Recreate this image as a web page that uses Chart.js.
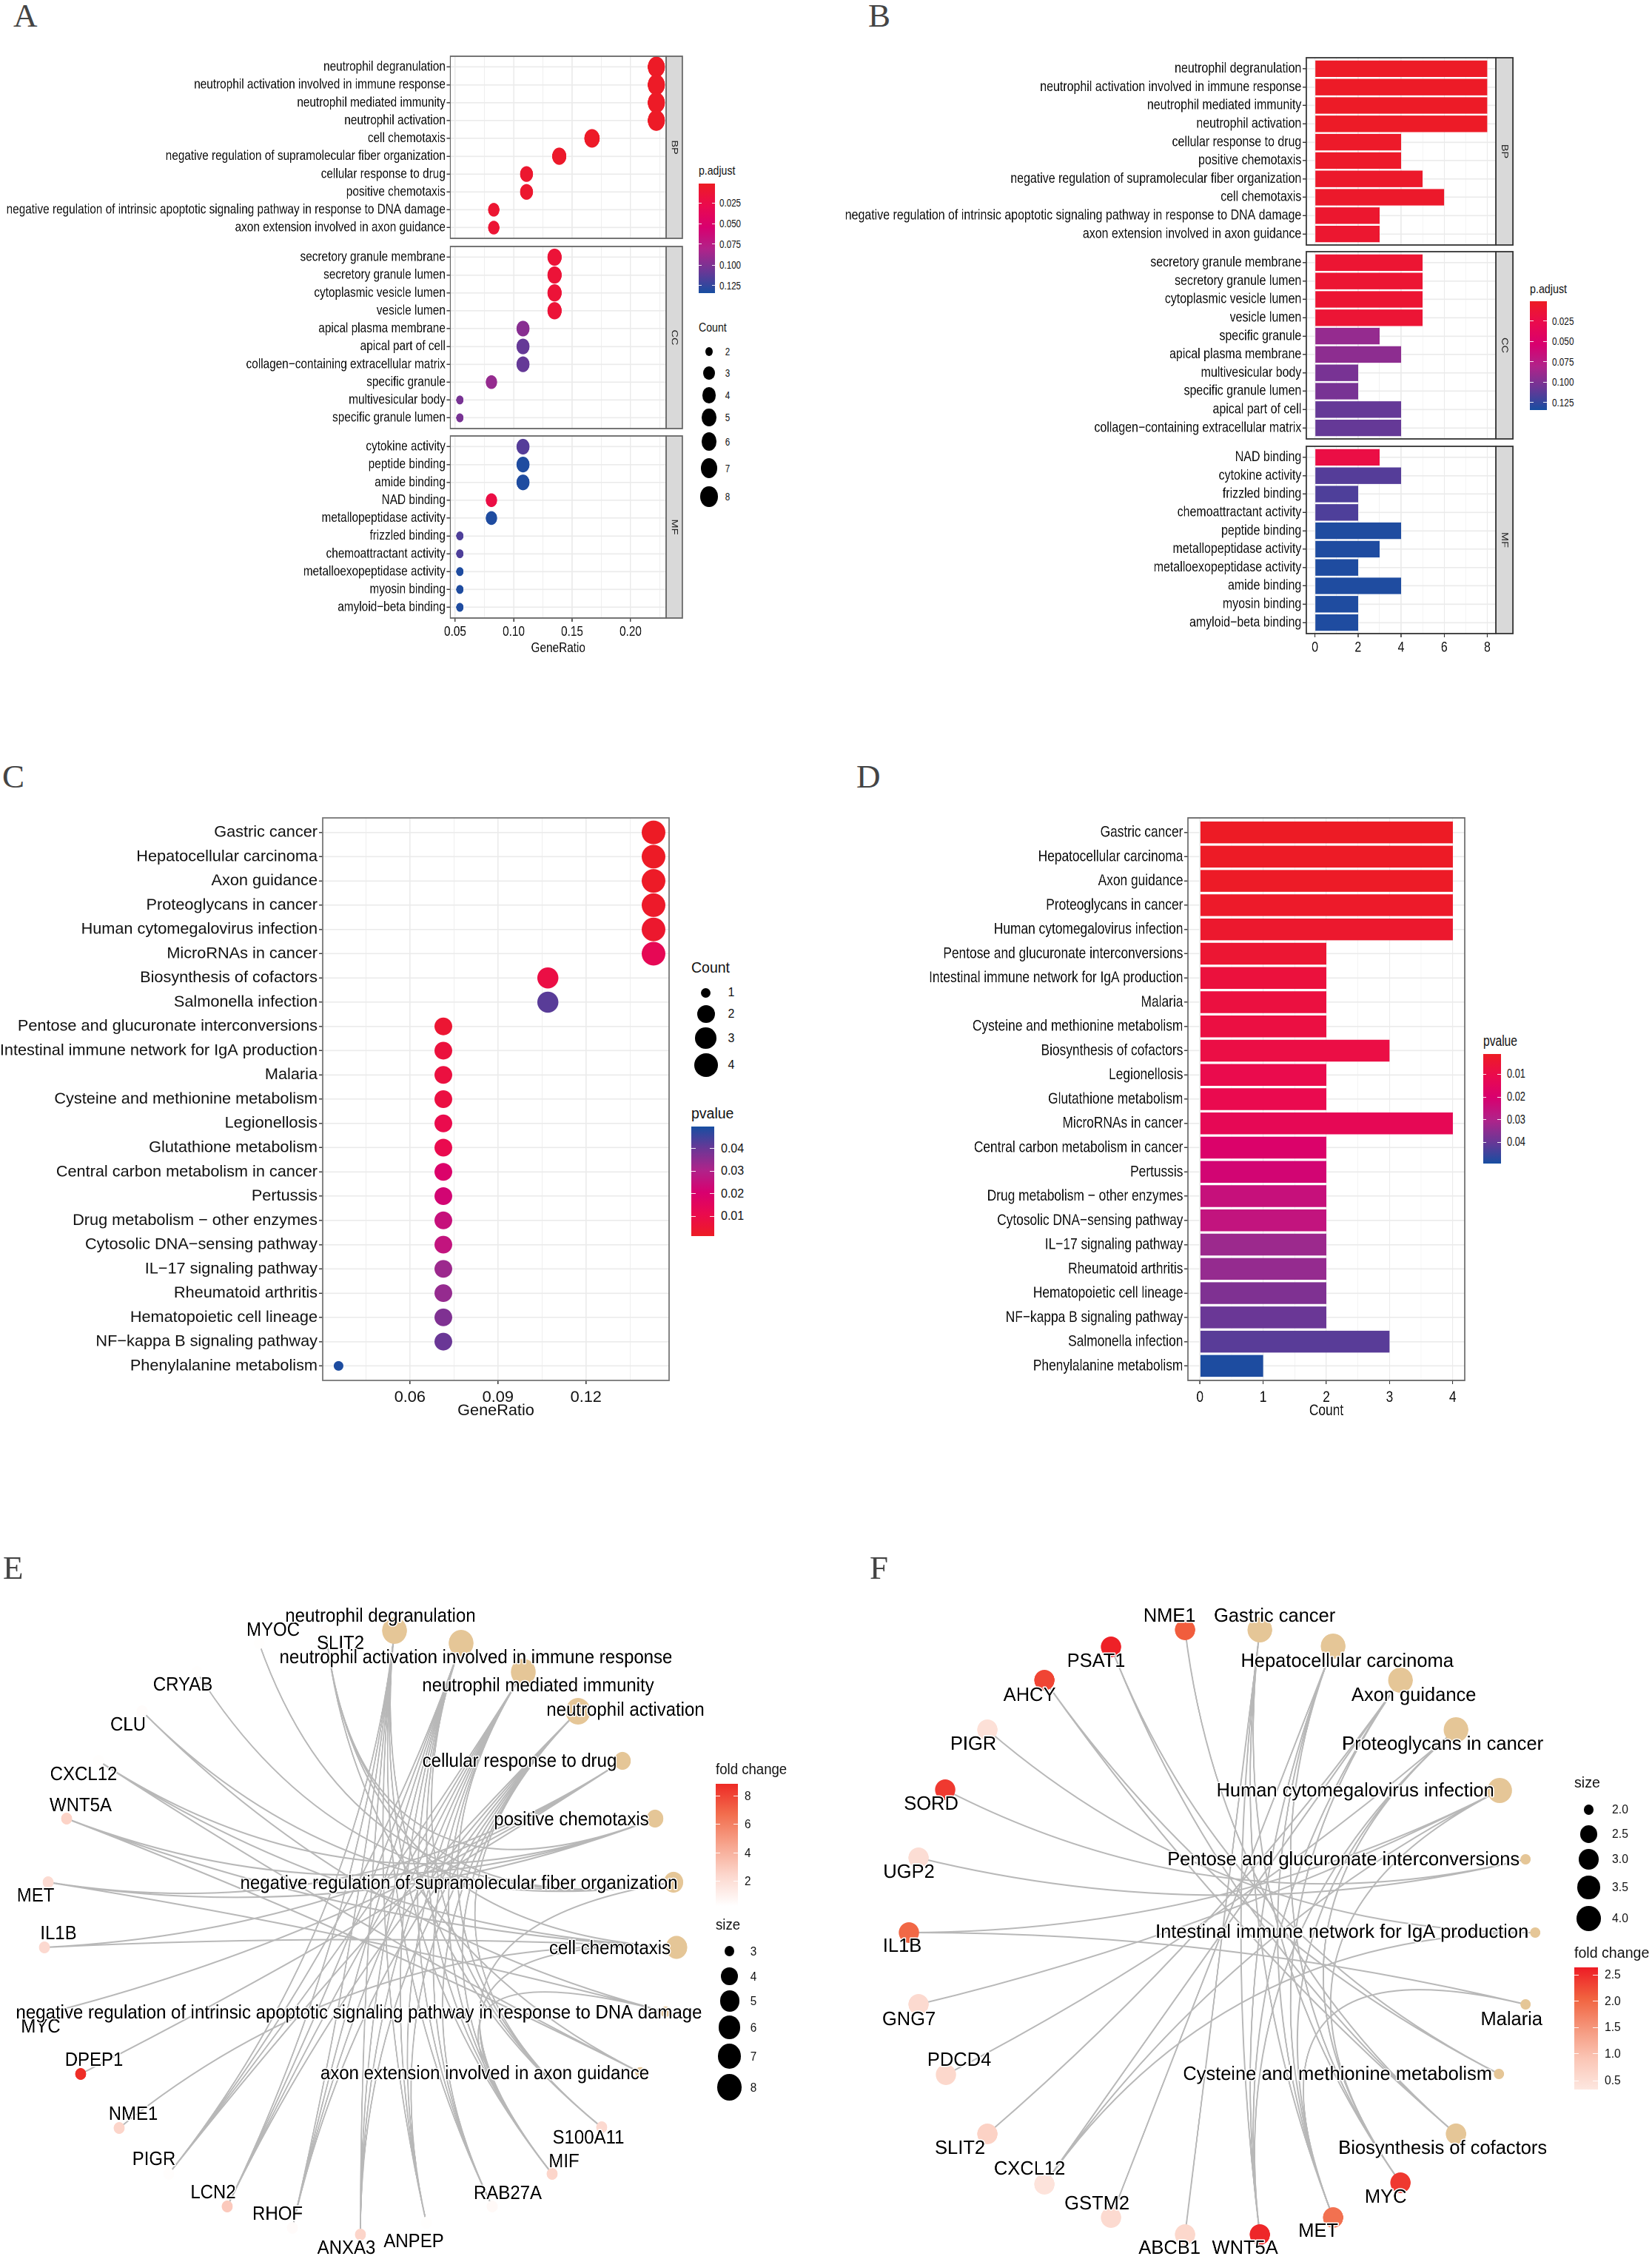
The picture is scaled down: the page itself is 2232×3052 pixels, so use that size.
<!DOCTYPE html>
<html>
<head>
<meta charset="utf-8">
<title>Enrichment panels</title>
<script src="https://cdn.jsdelivr.net/npm/chart.js@4/dist/chart.umd.min.js"></script>
<style>
html, body { margin: 0; padding: 0; background: #fff; }
#page { position: relative; width: 2232px; height: 3052px; overflow: hidden; background: #fff; font-family: 'Liberation Sans', Arial, sans-serif; color: #111; }
#page canvas { position: absolute; transform-origin: 0 0; }
.txt { position: absolute; white-space: nowrap; transform-origin: 0 50%; line-height: 1; }
.letter { position: absolute; font-family: 'Liberation Serif', serif; font-size: 45px; line-height: 1; color: #444; transform-origin: 0 50%; }
.box { position: absolute; }
</style>
</head>
<body>
<div id="page"></div>
<script>
// Panel A - GO dot plot
const bpTermsA = ['neutrophil degranulation', 'neutrophil activation involved in immune response', 'neutrophil mediated immunity', 'neutrophil activation', 'cell chemotaxis', 'negative regulation of supramolecular fiber organization', 'cellular response to drug', 'positive chemotaxis', 'negative regulation of intrinsic apoptotic signaling pathway in response to DNA damage', 'axon extension involved in axon guidance'];
const bpRatioA = [0.222, 0.222, 0.222, 0.222, 0.167, 0.139, 0.111, 0.111, 0.083, 0.083];
const bpCountA = [8, 8, 8, 8, 6, 5, 4, 4, 3, 3];
const bpPadjA = [0.003, 0.003, 0.003, 0.003, 0.004, 0.006, 0.008, 0.008, 0.01, 0.012];
const ccTermsA = ['secretory granule membrane', 'secretory granule lumen', 'cytoplasmic vesicle lumen', 'vesicle lumen', 'apical plasma membrane', 'apical part of cell', 'collagen\u2212containing extracellular matrix', 'specific granule', 'multivesicular body', 'specific granule lumen'];
const ccRatioA = [0.135, 0.135, 0.135, 0.135, 0.108, 0.108, 0.108, 0.081, 0.054, 0.054];
const ccCountA = [5, 5, 5, 5, 4, 4, 4, 3, 2, 2];
const ccPadjA = [0.014, 0.014, 0.014, 0.014, 0.095, 0.108, 0.108, 0.09, 0.101, 0.101];
const mfTermsA = ['cytokine activity', 'peptide binding', 'amide binding', 'NAD binding', 'metallopeptidase activity', 'frizzled binding', 'chemoattractant activity', 'metalloexopeptidase activity', 'myosin binding', 'amyloid\u2212beta binding'];
const mfRatioA = [0.108, 0.108, 0.108, 0.081, 0.081, 0.054, 0.054, 0.054, 0.054, 0.054];
const mfCountA = [4, 4, 4, 3, 3, 2, 2, 2, 2, 2];
const mfPadjA = [0.113, 0.13, 0.13, 0.022, 0.13, 0.115, 0.115, 0.13, 0.13, 0.13];
const ratioTicksA = [0.05, 0.075, 0.10, 0.125, 0.15, 0.175, 0.20, 0.225];
const ratioMajorA = [0.05, 0.10, 0.15, 0.20];

// Panel B - GO bar plot
const bpTermsB = ['neutrophil degranulation', 'neutrophil activation involved in immune response', 'neutrophil mediated immunity', 'neutrophil activation', 'cellular response to drug', 'positive chemotaxis', 'negative regulation of supramolecular fiber organization', 'cell chemotaxis', 'negative regulation of intrinsic apoptotic signaling pathway in response to DNA damage', 'axon extension involved in axon guidance'];
const bpCountB = [8, 8, 8, 8, 4, 4, 5, 6, 3, 3];
const bpPadjB = [0.003, 0.003, 0.003, 0.003, 0.005, 0.005, 0.006, 0.006, 0.008, 0.009];
const ccTermsB = ['secretory granule membrane', 'secretory granule lumen', 'cytoplasmic vesicle lumen', 'vesicle lumen', 'specific granule', 'apical plasma membrane', 'multivesicular body', 'specific granule lumen', 'apical part of cell', 'collagen\u2212containing extracellular matrix'];
const ccCountB = [5, 5, 5, 5, 3, 4, 2, 2, 4, 4];
const ccPadjB = [0.011, 0.011, 0.011, 0.012, 0.09, 0.093, 0.101, 0.101, 0.108, 0.108];
const mfTermsB = ['NAD binding', 'cytokine activity', 'frizzled binding', 'chemoattractant activity', 'peptide binding', 'metallopeptidase activity', 'metalloexopeptidase activity', 'amide binding', 'myosin binding', 'amyloid\u2212beta binding'];
const mfCountB = [3, 4, 2, 2, 4, 3, 2, 4, 2, 2];
const mfPadjB = [0.022, 0.113, 0.115, 0.115, 0.13, 0.13, 0.13, 0.13, 0.13, 0.13];
const countTicksB = [0, 1, 2, 3, 4, 5, 6, 7, 8];
const countMajorB = [0, 2, 4, 6, 8];

// Panel C - KEGG dot plot
const keggTermsC = ['Gastric cancer', 'Hepatocellular carcinoma', 'Axon guidance', 'Proteoglycans in cancer', 'Human cytomegalovirus infection', 'MicroRNAs in cancer', 'Biosynthesis of cofactors', 'Salmonella infection', 'Pentose and glucuronate interconversions', 'Intestinal immune network for IgA production', 'Malaria', 'Cysteine and methionine metabolism', 'Legionellosis', 'Glutathione metabolism', 'Central carbon metabolism in cancer', 'Pertussis', 'Drug metabolism \u2212 other enzymes', 'Cytosolic DNA\u2212sensing pathway', 'IL\u221217 signaling pathway', 'Rheumatoid arthritis', 'Hematopoietic cell lineage', 'NF\u2212kappa B signaling pathway', 'Phenylalanine metabolism'];
const keggRatioC = [0.143, 0.143, 0.143, 0.143, 0.143, 0.143, 0.107, 0.107, 0.0714, 0.0714, 0.0714, 0.0714, 0.0714, 0.0714, 0.0714, 0.0714, 0.0714, 0.0714, 0.0714, 0.0714, 0.0714, 0.0714, 0.0357];
const keggCountC = [4, 4, 4, 4, 4, 4, 3, 3, 2, 2, 2, 2, 2, 2, 2, 2, 2, 2, 2, 2, 2, 2, 1];
const keggPvalC = [0.0014, 0.0016, 0.0018, 0.0024, 0.0034, 0.013, 0.0088, 0.042, 0.0045, 0.007, 0.0075, 0.008, 0.0105, 0.011, 0.019, 0.022, 0.025, 0.026, 0.033, 0.034, 0.037, 0.04, 0.049];
const ratioTicksC = [0.045, 0.06, 0.075, 0.09, 0.105, 0.12, 0.135];
const ratioMajorC = [0.06, 0.09, 0.12];

// Panel D - KEGG bar plot
const keggTermsD = ['Gastric cancer', 'Hepatocellular carcinoma', 'Axon guidance', 'Proteoglycans in cancer', 'Human cytomegalovirus infection', 'Pentose and glucuronate interconversions', 'Intestinal immune network for IgA production', 'Malaria', 'Cysteine and methionine metabolism', 'Biosynthesis of cofactors', 'Legionellosis', 'Glutathione metabolism', 'MicroRNAs in cancer', 'Central carbon metabolism in cancer', 'Pertussis', 'Drug metabolism \u2212 other enzymes', 'Cytosolic DNA\u2212sensing pathway', 'IL\u221217 signaling pathway', 'Rheumatoid arthritis', 'Hematopoietic cell lineage', 'NF\u2212kappa B signaling pathway', 'Salmonella infection', 'Phenylalanine metabolism'];
const keggCountD = [4, 4, 4, 4, 4, 2, 2, 2, 2, 3, 2, 2, 4, 2, 2, 2, 2, 2, 2, 2, 2, 3, 1];
const keggPvalD = [0.0014, 0.0016, 0.0018, 0.0024, 0.0034, 0.0045, 0.007, 0.0075, 0.008, 0.0088, 0.0105, 0.011, 0.013, 0.019, 0.022, 0.025, 0.026, 0.033, 0.034, 0.037, 0.04, 0.042, 0.049];
const countTicksD = [0, 0.5, 1, 1.5, 2, 2.5, 3, 3.5, 4];
const countMajorD = [0, 1, 2, 3, 4];

// Panel E - GO network, node places
const termsE = ['neutrophil degranulation', 'neutrophil activation involved in immune response', 'neutrophil mediated immunity', 'neutrophil activation', 'cellular response to drug', 'positive chemotaxis', 'negative regulation of supramolecular fiber organization', 'cell chemotaxis', 'negative regulation of intrinsic apoptotic signaling pathway in response to DNA damage', 'axon extension involved in axon guidance'];
const termXE = [533, 623, 707, 781, 841, 885, 910, 914, 899, 865];
const termYE = [113, 130, 169, 222, 289, 367, 453, 541, 628, 710];
const termSizeE = [8, 8, 8, 8, 4, 4, 5, 6, 3, 3];
const termLabelXE = [514, 643, 727, 845, 702, 772, 620, 824, 485, 655];
const termLabelYE = [94, 150, 188, 221, 290, 369, 455, 543, 630, 712];
const genesE = ['S100A11', 'MIF', 'RAB27A', 'ANPEP', 'ANXA3', 'RHOF', 'LCN2', 'PIGR', 'NME1', 'DPEP1', 'MYC', 'IL1B', 'MET', 'WNT5A', 'CXCL12', 'CLU', 'CRYAB', 'MYOC', 'SLIT2'];
const geneXE = [813, 746, 665, 576, 487, 395, 307, 228, 161, 109, 75, 60, 65, 90, 133, 192, 266, 350, 440];
const geneYE = [784, 847, 891, 913, 929, 920, 891, 847, 785, 712, 627, 541, 453, 367, 289, 222, 169, 130, 113];
const geneFoldE = [2.3, 2.5, 0.6, 0.35, 2.5, 0.5, 3.0, 0.4, 2.5, 8.7, 0.35, 2.3, 2.2, 2.6, 0.35, 0.45, 0.35, 0.35, 0.5];
const geneLabelXE = [795, 762, 686, 559, 468, 375, 288, 208, 180, 127, 55, 79, 48, 109, 113, 173, 247, 369, 460];
const geneLabelYE = [799, 831, 874, 939, 948, 902, 873, 828, 767, 694, 649, 523, 472, 350, 308, 241, 187, 113, 131];
const neutrophilGenesE = ['S100A11', 'MIF', 'RAB27A', 'ANPEP', 'ANXA3', 'RHOF', 'LCN2', 'PIGR'];
const termLinksE = [
    neutrophilGenesE, neutrophilGenesE, neutrophilGenesE, neutrophilGenesE,
    ['MYC', 'MET', 'IL1B', 'DPEP1'],
    ['WNT5A', 'CXCL12', 'MET', 'SLIT2'],
    ['SLIT2', 'MYOC', 'CRYAB', 'CLU', 'MIF'],
    ['SLIT2', 'WNT5A', 'CXCL12', 'IL1B', 'MIF', 'NME1'],
    ['CLU', 'MIF', 'MET'],
    ['SLIT2', 'WNT5A', 'CXCL12']
];

// Panel F - KEGG network
const termsF = ['Gastric cancer', 'Hepatocellular carcinoma', 'Axon guidance', 'Proteoglycans in cancer', 'Human cytomegalovirus infection', 'Pentose and glucuronate interconversions', 'Intestinal immune network for IgA production', 'Malaria', 'Cysteine and methionine metabolism', 'Biosynthesis of cofactors'];
const termXF = [586, 685, 776, 851, 910, 945, 958, 945, 909, 851];
const termYF = [112, 134, 180, 247, 329, 422, 521, 618, 712, 793];
const termSizeF = [4, 4, 4, 4, 4, 2, 2, 2, 2, 3];
const termLabelXF = [606, 704, 794, 833, 715, 699, 697, 926, 691, 833];
const termLabelYF = [94, 155, 201, 267, 330, 423, 521, 639, 713, 813];
const genesF = ['MYC', 'MET', 'WNT5A', 'ABCB1', 'GSTM2', 'CXCL12', 'SLIT2', 'PDCD4', 'GNG7', 'IL1B', 'UGP2', 'SORD', 'PIGR', 'AHCY', 'PSAT1', 'NME1'];
const geneXF = [776, 685, 586, 485, 385, 295, 218, 162, 125, 112, 125, 161, 218, 295, 385, 485];
const geneYF = [859, 906, 929, 929, 906, 861, 793, 713, 618, 521, 420, 328, 247, 180, 135, 112];
const geneFoldF = [2.4, 1.9, 2.55, 0.6, 0.55, 0.4, 0.7, 0.6, 0.55, 2.0, 0.5, 2.4, 0.45, 2.3, 2.6, 2.1];
const geneLabelXF = [756, 665, 566, 464, 366, 275, 181, 180, 112, 103, 112, 142, 199, 275, 365, 464];
const geneLabelYF = [879, 925, 948, 948, 888, 841, 813, 694, 639, 540, 440, 348, 267, 201, 155, 94];
const termLinksF = [
    ['MYC', 'MET', 'WNT5A', 'ABCB1'],
    ['MYC', 'MET', 'WNT5A', 'GSTM2'],
    ['MET', 'WNT5A', 'CXCL12', 'SLIT2'],
    ['MYC', 'MET', 'WNT5A', 'PDCD4'],
    ['GNG7', 'CXCL12', 'MYC', 'IL1B'],
    ['UGP2', 'SORD'],
    ['PIGR', 'CXCL12'],
    ['IL1B', 'MET'],
    ['AHCY', 'PSAT1'],
    ['NME1', 'AHCY', 'PSAT1']
];

// Legend values
const padjTicks = [0.025, 0.05, 0.075, 0.1, 0.125];
const pvalTicks = [0.01, 0.02, 0.03, 0.04];
const countLegendA = [2, 3, 4, 5, 6, 7, 8];
const countLegendC = [1, 2, 3, 4];
const sizeLegendE = [3, 4, 5, 6, 7, 8];
const sizeLegendF = [2.0, 2.5, 3.0, 3.5, 4.0];
const foldTicksE = [2, 4, 6, 8];
const foldTicksF = [0.5, 1.0, 1.5, 2.0, 2.5];

// Colours
const pColours = ['#ED1C24', '#EA0A4E', '#D8006F', '#B0238A', '#6A3796', '#174EA1'];
const foldColoursE = ['#FFFFFF', '#FCD7CD', '#F7A58E', '#F26E4E', '#EE2A25'];
const foldColoursF = ['#FDE7E0', '#FBC6B6', '#F5977C', '#F1623F', '#EE1C25'];
const termColour = '#E5C697';
const edgeColour = '#B8B8B8';

const page = document.getElementById('page');
const FONT = "'Liberation Sans', Arial, sans-serif";
Chart.defaults.font.family = FONT;
Chart.defaults.color = '#111';
Chart.defaults.animation = false;

function hexToRgb(h) {
    return [parseInt(h.slice(1, 3), 16), parseInt(h.slice(3, 5), 16), parseInt(h.slice(5, 7), 16)];
}

function colourAt(t, stops) {
    t = Math.min(1, Math.max(0, t));
    const pos = t * (stops.length - 1);
    const i = Math.min(stops.length - 2, Math.floor(pos));
    const a = hexToRgb(stops[i]), b = hexToRgb(stops[i + 1]);
    const f = pos - i;
    return `rgb(${a.map((v, k) => Math.round(v + (b[k] - v) * f)).join(',')})`;
}

function scaleColour(values, lo, hi, stops) {
    return values.map(v => colourAt((v - lo) / (hi - lo), stops));
}

// ggplot style area scale for the dots
function radiusFor(v, lo, hi, rLo, rHi) {
    return rLo + (rHi - rLo) * Math.sqrt((v - lo) / (hi - lo));
}

function addText(text, x, y, size, sx, centre) {
    const el = document.createElement('div');
    el.className = 'txt';
    el.textContent = text;
    el.style.left = x + 'px';
    el.style.top = (y - size / 2) + 'px';
    el.style.fontSize = size + 'px';
    el.style.transform = `scaleX(${sx})`;
    if (centre) {
        el.style.transformOrigin = '50% 50%';
        el.style.width = '80px';
        el.style.marginLeft = '-40px';
        el.style.textAlign = 'center';
    }
    page.appendChild(el);
}

function addLetter(text, x, y) {
    const el = document.createElement('div');
    el.className = 'letter';
    el.textContent = text;
    el.style.left = x + 'px';
    el.style.top = (y - 22) + 'px';
    page.appendChild(el);
}

function addDot(x, y, r, sx) {
    const el = document.createElement('div');
    el.className = 'box';
    el.style.cssText = `left:${x - r * sx}px;top:${y - r}px;width:${2 * r * sx}px;height:${2 * r}px;background:#000;border-radius:50%;`;
    page.appendChild(el);
}

// Colour bar: colours run top to bottom, white tick pairs at each label
function addColourBar(x0, x1, y0, y1, colours, tickYs, labels, labelX, size, sx) {
    const el = document.createElement('div');
    el.className = 'box';
    el.style.cssText = `left:${x0}px;top:${y0}px;width:${x1 - x0}px;height:${y1 - y0}px;background:linear-gradient(to bottom,${colours.join(',')});`;
    page.appendChild(el);
    const w = (x1 - x0) / 5;
    tickYs.forEach((y, i) => {
        [x0, x1 - w].forEach(x => {
            const t = document.createElement('div');
            t.className = 'box';
            t.style.cssText = `left:${x}px;top:${y - 0.5}px;width:${w}px;height:1px;background:rgba(255,255,255,0.9);`;
            page.appendChild(t);
        });
        addText(labels[i], labelX, y, size, sx);
    });
}

// Panel frame and the grey facet strip on the right
function framePlugin(strip, stripW, colour) {
    return {
        id: 'panelFrame',
        afterDraw(chart) {
            const a = chart.chartArea, ctx = chart.ctx;
            ctx.save();
            ctx.strokeStyle = colour;
            ctx.lineWidth = 1.8;
            if (strip) {
                ctx.fillStyle = '#D9D9D9';
                ctx.fillRect(a.right, a.top, stripW, a.bottom - a.top);
                ctx.strokeRect(a.right, a.top, stripW, a.bottom - a.top);
                ctx.save();
                ctx.translate(a.right + stripW / 2, (a.top + a.bottom) / 2);
                ctx.rotate(Math.PI / 2);
                ctx.fillStyle = '#222';
                ctx.font = `14.5px ${FONT}`;
                ctx.textAlign = 'center';
                ctx.textBaseline = 'middle';
                ctx.fillText(strip, 0, 0);
                ctx.restore();
            }
            ctx.strokeRect(a.left, a.top, a.right - a.left, a.bottom - a.top);
            ctx.restore();
        }
    };
}

// One facet: f gives figure pixels for its box, sx the horizontal squeeze of the panel
function facet(f) {
    const n = f.terms.length;
    const stripW = f.strip ? (f.stripRight - f.right) / f.sx : 0;
    const pad = 2;
    const axisH = f.axisH || pad;
    const areaRight = (f.right - f.canvasLeft) / f.sx;
    const canvas = document.createElement('canvas');
    canvas.width = Math.ceil(areaRight + stripW + 4);
    canvas.height = Math.ceil(f.bottom - f.top + pad + axisH);
    canvas.style.left = f.canvasLeft + 'px';
    canvas.style.top = (f.top - pad) + 'px';
    canvas.style.transform = `scaleX(${f.sx})`;
    page.appendChild(canvas);

    const points = f.values.map((v, i) => ({ x: v, y: i }));
    const dataset = f.kind === 'bar'
        ? { data: points, backgroundColor: f.colours, borderWidth: 0, barPercentage: 1, categoryPercentage: 0.9 }
        : { data: points, pointBackgroundColor: f.colours, pointBorderWidth: 0, pointRadius: f.radii, showLine: false };

    new Chart(canvas, {
        type: f.kind === 'bar' ? 'bar' : 'scatter',
        data: { datasets: [dataset] },
        plugins: [framePlugin(f.strip, stripW, f.frame)],
        options: {
            responsive: false,
            devicePixelRatio: 2,
            animation: false,
            indexAxis: f.kind === 'bar' ? 'y' : 'x',
            layout: { autoPadding: false, padding: { top: pad, right: canvas.width - areaRight, bottom: 0, left: 0 } },
            plugins: { legend: { display: false }, tooltip: { enabled: false } },
            scales: {
                x: {
                    type: 'linear',
                    offset: false,
                    min: f.xMin,
                    max: f.xMax,
                    afterBuildTicks(s) { s.ticks = f.xTicks.map(v => ({ value: v })); },
                    afterFit(s) { s.height = axisH; s.paddingLeft = 0; s.paddingRight = 0; },
                    border: { display: false },
                    grid: {
                        offset: false,
                        color: '#EBEBEB',
                        lineWidth: c => (f.xMajor.includes(c.tick.value) ? 1.6 : 0.8),
                        drawTicks: !!f.showAxis,
                        tickLength: 5,
                        tickColor: c => (f.xMajor.includes(c.tick.value) ? '#333' : 'rgba(0,0,0,0)'),
                        tickWidth: 1.5
                    },
                    ticks: {
                        display: !!f.showAxis,
                        autoSkip: false,
                        maxRotation: 0,
                        padding: f.tickPad,
                        color: '#111',
                        font: { size: f.fontSize },
                        callback: v => (f.xMajor.includes(v) ? f.xFormat(v) : '')
                    },
                    title: {
                        display: !!f.xTitle,
                        text: f.xTitle || '',
                        color: '#111',
                        font: { size: f.fontSize },
                        padding: 0
                    }
                },
                y: {
                    type: 'linear',
                    offset: false,
                    reverse: true,
                    min: -0.6,
                    max: n - 0.4,
                    afterBuildTicks(s) { s.ticks = f.terms.map((t, i) => ({ value: i })); },
                    afterFit(s) { s.width = (f.left - f.canvasLeft) / f.sx; s.paddingTop = 0; s.paddingBottom = 0; },
                    border: { display: false },
                    grid: { offset: false, color: '#EBEBEB', lineWidth: 1.6, tickLength: 5 / f.sx, tickColor: '#333', tickWidth: 1.4 },
                    ticks: {
                        autoSkip: false,
                        padding: 2,
                        color: '#111',
                        font: { size: f.fontSize },
                        callback: v => f.terms[v]
                    }
                }
            }
        }
    });
}

// Network: gene-term arcs pulled towards the ring centre, drawn through the scales
function network(n) {
    const canvas = document.createElement('canvas');
    canvas.width = Math.ceil(1116 / n.sx);
    canvas.height = 962;
    canvas.style.left = n.left + 'px';
    canvas.style.top = '2090px';
    canvas.style.transform = `scaleX(${n.sx})`;
    page.appendChild(canvas);

    const arcs = {
        id: 'arcs',
        beforeDatasetsDraw(chart) {
            const ctx = chart.ctx, sx = chart.scales.x, sy = chart.scales.y;
            ctx.save();
            ctx.strokeStyle = edgeColour;
            ctx.lineWidth = 2;
            n.links.forEach((genes, t) => {
                genes.forEach(g => {
                    const i = n.genes.indexOf(g);
                    ctx.beginPath();
                    ctx.moveTo(sx.getPixelForValue(n.termX[t]), sy.getPixelForValue(n.termY[t]));
                    ctx.quadraticCurveTo(sx.getPixelForValue(n.centre[0]), sy.getPixelForValue(n.centre[1]),
                        sx.getPixelForValue(n.geneX[i]), sy.getPixelForValue(n.geneY[i]));
                    ctx.stroke();
                });
            });
            ctx.restore();
        }
    };

    const labels = {
        id: 'nodeLabels',
        afterDatasetsDraw(chart) {
            const ctx = chart.ctx, sx = chart.scales.x, sy = chart.scales.y;
            ctx.save();
            ctx.font = `${n.fontSize}px ${FONT}`;
            ctx.textAlign = 'center';
            ctx.textBaseline = 'middle';
            ctx.lineJoin = 'round';
            const put = (text, x, y) => {
                ctx.strokeStyle = '#fff';
                ctx.lineWidth = 3;
                ctx.strokeText(text, sx.getPixelForValue(x), sy.getPixelForValue(y));
                ctx.fillStyle = '#000';
                ctx.fillText(text, sx.getPixelForValue(x), sy.getPixelForValue(y));
            };
            n.genes.forEach((g, i) => put(g, n.geneLabelX[i], n.geneLabelY[i]));
            n.terms.forEach((t, i) => put(t, n.termLabelX[i], n.termLabelY[i]));
            ctx.restore();
        }
    };

    new Chart(canvas, {
        type: 'scatter',
        data: {
            datasets: [
                {
                    data: n.termX.map((x, i) => ({ x, y: n.termY[i] })),
                    pointBackgroundColor: termColour,
                    pointBorderWidth: 0,
                    pointRadius: n.termRadii
                },
                {
                    data: n.geneX.map((x, i) => ({ x, y: n.geneY[i] })),
                    pointBackgroundColor: n.geneColours,
                    pointBorderWidth: 0,
                    pointRadius: n.geneRadius
                }
            ]
        },
        plugins: [arcs, labels],
        options: {
            responsive: false,
            devicePixelRatio: 2,
            animation: false,
            layout: { autoPadding: false, padding: 0 },
            plugins: { legend: { display: false }, tooltip: { enabled: false } },
            scales: {
                x: { type: 'linear', display: false, min: 0, max: 1116 },
                y: { type: 'linear', display: false, min: 0, max: 962, reverse: true }
            }
        }
    });
}

const fmt2 = v => v.toFixed(2);
const fmt0 = v => String(v);

// ----- Panel A
const padjLo = 0.0014, padjHi = 0.1325;
const sxA = 0.83;
const dotsA = c => c.map(v => radiusFor(v, 2, 8, 6, 14));
[
    { terms: bpTermsA, values: bpRatioA, count: bpCountA, p: bpPadjA, top: 75.7, bottom: 321.5, strip: 'BP' },
    { terms: ccTermsA, values: ccRatioA, count: ccCountA, p: ccPadjA, top: 332.7, bottom: 578, strip: 'CC' },
    { terms: mfTermsA, values: mfRatioA, count: mfCountA, p: mfPadjA, top: 588.5, bottom: 834.3, strip: 'MF', showAxis: true, axisH: 52, tickPad: 3, xTitle: 'GeneRatio' }
].forEach(f => facet(Object.assign(f, {
    kind: 'dot', sx: sxA, canvasLeft: 0, left: 608.5, right: 900, stripRight: 922,
    xMin: 0.0459, xMax: 0.2304, xTicks: ratioTicksA, xMajor: ratioMajorA, xFormat: fmt2,
    fontSize: 18.5, frame: '#666', colours: scaleColour(f.p, padjLo, padjHi, pColours), radii: dotsA(f.count)
})));
addText('p.adjust', 944, 230.6, 17, sxA);
addColourBar(944, 966, 247.6, 396, pColours, [274, 302, 329.7, 358, 385.5], padjTicks.map(v => v.toFixed(3)), 972, 14, sxA);
addText('Count', 944, 442, 17, sxA);
[474.6, 504, 534, 564, 596.7, 632.5, 670.6].forEach((y, i) => {
    addDot(958, y, radiusFor(countLegendA[i], 2, 8, 6, 14), sxA);
    addText(String(countLegendA[i]), 983, y, 14, sxA, true);
});

// ----- Panel B
const sxB = 0.84;
[
    { terms: bpTermsB, values: bpCountB, p: bpPadjB, top: 78, bottom: 330.3, strip: 'BP' },
    { terms: ccTermsB, values: ccCountB, p: ccPadjB, top: 340.3, bottom: 593, strip: 'CC' },
    { terms: mfTermsB, values: mfCountB, p: mfPadjB, top: 603, bottom: 856, strip: 'MF', showAxis: true, axisH: 32, tickPad: 3 }
].forEach(f => facet(Object.assign(f, {
    kind: 'bar', sx: sxB, canvasLeft: 1130, left: 1765, right: 2021, stripRight: 2044,
    xMin: -0.4, xMax: 8.4, xTicks: countTicksB, xMajor: countMajorB, xFormat: fmt0,
    fontSize: 19, frame: '#333', colours: scaleColour(f.p, padjLo, padjHi, pColours)
})));
addText('p.adjust', 2067, 390, 17, sxB);
addColourBar(2067, 2089.6, 407, 554, pColours, [433.6, 461, 488.7, 516.3, 543.9], padjTicks.map(v => v.toFixed(3)), 2097, 14, sxB);

// ----- Panel C
const pLo = 0.0011, pHi = 0.0497;
facet({
    kind: 'dot', sx: 1, canvasLeft: 0, left: 436, right: 904, top: 1104.5, bottom: 1863.7,
    terms: keggTermsC, values: keggRatioC, xMin: 0.0303, xMax: 0.1483,
    xTicks: ratioTicksC, xMajor: ratioMajorC, xFormat: fmt2, showAxis: true, axisH: 54, tickPad: 5, xTitle: 'GeneRatio',
    fontSize: 21.7, frame: '#777', colours: scaleColour(keggPvalC, pLo, pHi, pColours),
    radii: keggCountC.map(v => radiusFor(v, 1, 4, 6.5, 16))
});
addText('Count', 934, 1308, 19.5, 1);
[1341, 1370, 1402.5, 1439].forEach((y, i) => {
    addDot(953.7, y, radiusFor(countLegendC[i], 1, 4, 6.5, 16), 1);
    addText(String(countLegendC[i]), 988, y, 16, 1, true);
});
addText('pvalue', 934, 1505, 19.5, 1);
addColourBar(934, 965, 1522, 1670, pColours.slice().reverse(), [1643, 1612.6, 1582, 1551.6], pvalTicks.map(v => v.toFixed(2)), 974, 16, 1);

// ----- Panel D
const sxD = 0.8;
facet({
    kind: 'bar', sx: sxD, canvasLeft: 1230, left: 1605, right: 1979, top: 1104.5, bottom: 1863.7,
    terms: keggTermsD, values: keggCountD, xMin: -0.19, xMax: 4.19,
    xTicks: countTicksD, xMajor: countMajorD, xFormat: fmt0, showAxis: true, axisH: 54, tickPad: 5, xTitle: 'Count',
    fontSize: 21.7, frame: '#666', colours: scaleColour(keggPvalD, pLo, pHi, pColours)
});
addText('pvalue', 2003.5, 1406.6, 19.5, sxD);
addColourBar(2003.5, 2027.7, 1424, 1572, pColours, [1451, 1482, 1512.8, 1543.3], pvalTicks.map(v => v.toFixed(2)), 2035.5, 16, sxD);

// ----- Panel E
const sxE = 0.93;
network({
    left: 0, sx: sxE, fontSize: 25.8, centre: [487, 520],
    terms: termsE, termX: termXE, termY: termYE, termLabelX: termLabelXE, termLabelY: termLabelYE,
    genes: genesE, geneX: geneXE, geneY: geneYE, geneLabelX: geneLabelXE, geneLabelY: geneLabelYE,
    links: termLinksE,
    termRadii: termSizeE.map(v => radiusFor(v, 3, 8, 7.3, 18)),
    geneRadius: 8,
    geneColours: scaleColour(geneFoldE, 0.27, 8.83, foldColoursE)
});
addText('fold change', 966.5, 2390, 20, sxE);
addColourBar(966.7, 996.7, 2410, 2575, foldColoursE.slice().reverse(), [2541.7, 2503.3, 2464.3, 2426], foldTicksE.map(String), 1006, 16.5, sxE);
addText('size', 966.5, 2600, 20, sxE);
[2636, 2669.8, 2703.5, 2739, 2778, 2820].forEach((y, i) => {
    addDot(985.7, y, radiusFor(sizeLegendE[i], 3, 8, 7.3, 18), sxE);
    addText(String(sizeLegendE[i]), 1018, y, 16.5, sxE, true);
});

// ----- Panel F
const sxF = 0.98;
network({
    left: 1116, sx: sxF, fontSize: 26, centre: [535, 520],
    terms: termsF, termX: termXF, termY: termYF, termLabelX: termLabelXF, termLabelY: termLabelYF,
    genes: genesF, geneX: geneXF, geneY: geneYF, geneLabelX: geneLabelXF, geneLabelY: geneLabelYF,
    links: termLinksF,
    termRadii: termSizeF.map(v => radiusFor(v, 2, 4, 7, 17)),
    geneRadius: 14,
    geneColours: scaleColour(geneFoldF, 0.33, 2.64, foldColoursF)
});
addText('size', 2126.6, 2408, 20, sxF);
[2444.6, 2477.7, 2512, 2550, 2592].forEach((y, i) => {
    addDot(2146.5, y, radiusFor(sizeLegendF[i], 2, 4, 7, 17), sxF);
    addText(sizeLegendF[i].toFixed(1), 2188.5, y, 16, sxF, true);
});
addText('fold change', 2126.6, 2638, 20, sxF);
addColourBar(2126.6, 2158.6, 2658, 2823, foldColoursF.slice().reverse(), [2811, 2774.7, 2739, 2703.5, 2668], foldTicksF.map(v => v.toFixed(1)), 2168, 16, sxF);

// Panel letters
addLetter('A', 18, 21);
addLetter('B', 1173, 21);
addLetter('C', 3, 1049);
addLetter('D', 1157, 1049);
addLetter('E', 4, 2118);
addLetter('F', 1175, 2118);
</script>
</body>
</html>
